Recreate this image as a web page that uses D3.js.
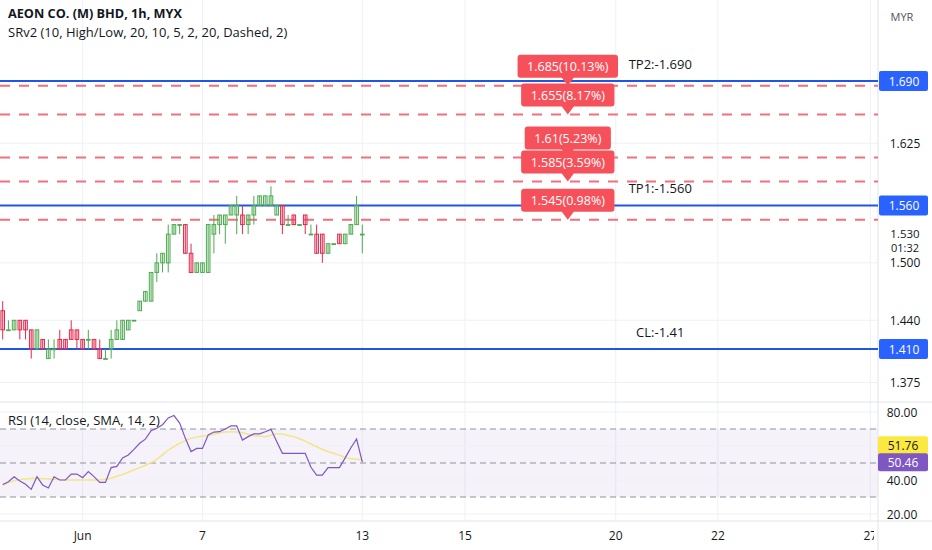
<!DOCTYPE html>
<html>
<head>
<meta charset="utf-8">
<script src="https://cdn.jsdelivr.net/npm/d3@7"></script>
<style>
  html, body { margin: 0; padding: 0; background: #fff; }
  svg { display: block; font-family: "Open Sans", "Noto Sans", sans-serif; }
</style>
</head>
<body>
<div id="chart"></div>
<script>
// Hourly bars, index 0 = first visible bar
const opens  = [1.45,1.43,1.43,1.44,1.44,1.43,1.41,1.42,1.40,1.41,1.42,1.42,1.43,1.43,1.42,1.42,1.42,1.41,1.40,1.41,1.42,1.42,1.43,1.44,
                1.45,1.46,1.46,1.49,1.50,1.50,1.53,1.54,1.54,1.51,1.49,1.49,1.49,1.53,1.54,1.54,1.55,1.55,1.55,1.54,1.55,1.56,1.56,1.56,
                1.55,1.56,1.54,1.55,1.54,1.55,1.53,1.53,1.53,1.51,1.52,1.53,1.52,1.53,1.54,1.53]
const highs  = [1.46,1.44,1.44,1.44,1.44,1.43,1.43,1.42,1.42,1.42,1.43,1.42,1.44,1.43,1.42,1.43,1.42,1.42,1.41,1.43,1.44,1.44,1.44,1.44,
                1.46,1.47,1.49,1.51,1.51,1.54,1.54,1.54,1.54,1.52,1.50,1.50,1.54,1.55,1.55,1.55,1.56,1.57,1.56,1.55,1.57,1.57,1.57,1.58,
                1.56,1.56,1.55,1.55,1.54,1.55,1.54,1.54,1.53,1.52,1.52,1.53,1.53,1.54,1.57,1.54]
const lows   = [1.42,1.43,1.43,1.42,1.42,1.40,1.41,1.41,1.40,1.40,1.41,1.41,1.42,1.41,1.41,1.41,1.41,1.40,1.40,1.40,1.42,1.42,1.43,1.44,
                1.45,1.46,1.46,1.48,1.49,1.49,1.53,1.53,1.51,1.49,1.49,1.49,1.49,1.51,1.53,1.52,1.55,1.53,1.53,1.53,1.54,1.56,1.56,1.56,
                1.55,1.53,1.54,1.54,1.54,1.53,1.53,1.51,1.50,1.51,1.52,1.52,1.52,1.53,1.54,1.51]
const closes = [1.43,1.43,1.44,1.43,1.43,1.41,1.43,1.41,1.41,1.41,1.41,1.41,1.42,1.42,1.41,1.42,1.41,1.40,1.40,1.42,1.43,1.44,1.44,1.44,
                1.46,1.47,1.49,1.50,1.51,1.53,1.54,1.54,1.51,1.49,1.50,1.50,1.54,1.54,1.55,1.55,1.56,1.56,1.54,1.55,1.56,1.57,1.57,1.57,
                1.56,1.54,1.54,1.54,1.54,1.54,1.53,1.51,1.51,1.52,1.52,1.52,1.53,1.54,1.56,1.53]

// RSI (14) and its SMA, one value per bar
const rsiValues = [37.4,39.0,41.9,39.4,37.5,34.5,41.9,37.1,35.3,41.9,40.0,40.0,43.5,43.5,41.4,44.9,42.0,38.6,38.6,47.3,48.0,53.0,54.7,58.0,
                   61.6,64.0,69.0,70.4,72.5,76.5,77.9,73.5,64.5,56.7,58.6,58.6,66.5,68.2,68.4,70.0,71.8,71.8,63.5,65.5,67.1,67.1,68.4,69.8,
                   62.6,55.7,55.7,55.7,55.7,55.7,47.5,42.9,42.9,47.3,47.3,47.3,53.0,59.0,64.1,50.46]
const rsiSma    = [36.7,38.5,39.6,40.2,40.6,40.9,41.0,40.8,40.6,40.4,40.2,40.0,40.0,40.0,40.0,40.0,40.0,40.0,40.4,41.0,42.2,43.3,44.6,46.0,
                   47.3,48.7,50.2,52.3,54.8,57.5,59.6,61.6,63.2,64.6,65.2,65.7,66.2,66.9,67.6,68.3,68.4,68.2,67.8,66.9,66.1,65.8,65.5,66.4,
                   67.2,67.0,66.2,65.5,64.3,62.9,61.2,59.6,58.1,56.8,55.7,54.5,53.3,52.5,52.2,51.76]

// time axis: bar index where each label sits
const dayTickIndex  = [14, 35, 63, 81, 107.4, 125.3, 152]
const dayTickLabels = ['Jun', '7', '13', '15', '20', '22', '27']

const priceTicks = [1.625, 1.500, 1.440, 1.375]
const lastPrice = 1.530
const countdown = '01:32'
const rsiGrid = [80, 60, 40, 20]
const rsiTickLabels = [80, 40, 20]
const rsiBand = [30, 70]
const rsiMid = 50

// SRv2 levels
const levelValues = [1.690, 1.560, 1.410]
const levelTexts  = ['TP2:-1.690', 'TP1:-1.560', 'CL:-1.41']
const targetValues = [1.685, 1.655, 1.61, 1.585, 1.545]
const targetPcts   = ['10.13%', '8.17%', '5.23%', '3.59%', '0.98%']
const targetBarIndex = 99
const levelTextIndex = 115.2

const W = 932, H = 550
const axisX = 878
const mainBottom = 402
const rsiBottom = 521

const svg = d3.select('#chart').append('svg')
  .attr('width', W)
  .attr('height', H)

const x = d3.scaleLinear().domain([0, 63]).range([2.7, 362.3])
const y = d3.scaleLinear().domain([1.410, 1.690]).range([349, 81])
const yr = d3.scaleLinear().domain([20, 80]).range([514, 412])

const gridColor = '#eef1f6'
const textColor = '#131722'

svg.append('defs').append('clipPath').attr('id', 'timeclip')
  .append('rect').attr('x', 0).attr('y', 0).attr('width', 874).attr('height', H)

// vertical grid
svg.append('g').selectAll('line')
  .data(dayTickIndex)
  .enter().append('line')
  .attr('x1', d => x(d)).attr('x2', d => x(d))
  .attr('y1', 0).attr('y2', rsiBottom)
  .attr('stroke', gridColor)

// horizontal grid, price pane
svg.append('g').selectAll('line')
  .data(priceTicks)
  .enter().append('line')
  .attr('x1', 0).attr('x2', axisX)
  .attr('y1', d => y(d)).attr('y2', d => y(d))
  .attr('stroke', gridColor)

// RSI band + grid
svg.append('rect')
  .attr('x', 0).attr('width', axisX)
  .attr('y', yr(rsiBand[1])).attr('height', yr(rsiBand[0]) - yr(rsiBand[1]))
  .attr('fill', 'rgba(126, 87, 194, 0.08)')

svg.append('g').selectAll('line')
  .data(rsiGrid)
  .enter().append('line')
  .attr('x1', 0).attr('x2', axisX)
  .attr('y1', d => yr(d)).attr('y2', d => yr(d))
  .attr('stroke', gridColor)

svg.append('g').selectAll('line')
  .data([rsiBand[1], rsiMid, rsiBand[0]])
  .enter().append('line')
  .attr('x1', 0).attr('x2', axisX)
  .attr('y1', d => yr(d)).attr('y2', d => yr(d))
  .attr('stroke', '#8f929b')
  .attr('stroke-dasharray', '6,4')

// pane borders
svg.append('line').attr('x1', 0).attr('x2', W).attr('y1', mainBottom).attr('y2', mainBottom).attr('stroke', '#e0e3eb')
svg.append('line').attr('x1', 0).attr('x2', W).attr('y1', rsiBottom).attr('y2', rsiBottom).attr('stroke', '#e0e3eb')
svg.append('line').attr('x1', axisX).attr('x2', axisX).attr('y1', 0).attr('y2', H).attr('stroke', '#e0e3eb')

// dashed target levels
svg.append('g').selectAll('line')
  .data(targetValues)
  .enter().append('line')
  .attr('x1', 0).attr('x2', axisX)
  .attr('y1', d => y(d)).attr('y2', d => y(d))
  .attr('stroke', '#f2707b')
  .attr('stroke-width', 2)
  .attr('stroke-dasharray', '10,9')

// solid TP / CL levels
svg.append('g').selectAll('line')
  .data(levelValues)
  .enter().append('line')
  .attr('x1', 0).attr('x2', axisX)
  .attr('y1', d => y(d)).attr('y2', d => y(d))
  .attr('stroke', '#2056e4')
  .attr('stroke-width', 2)

svg.append('g').selectAll('text')
  .data(levelValues)
  .enter().append('text')
  .attr('x', x(levelTextIndex))
  .attr('y', d => y(d) - 17.5)
  .attr('text-anchor', 'middle')
  .attr('dominant-baseline', 'central')
  .attr('font-size', 13)
  .attr('fill', textColor)
  .text((d, i) => levelTexts[i])

// candles
const bars = d3.range(opens.length).map(i => ({
  i, o: opens[i], h: highs[i], l: lows[i], c: closes[i]
}))
const upStroke = '#4caa50', downStroke = '#e2284d'
const cg = svg.append('g').selectAll('g')
  .data(bars)
  .enter().append('g')

cg.append('line')
  .attr('x1', d => x(d.i)).attr('x2', d => x(d.i))
  .attr('y1', d => y(d.h)).attr('y2', d => y(d.l))
  .attr('stroke', d => d.c >= d.o ? upStroke : downStroke)
  .attr('stroke-width', 1)

cg.append('rect')
  .attr('x', d => x(d.i) - 1.8)
  .attr('width', 3.6)
  .attr('y', d => y(Math.max(d.o, d.c)))
  .attr('height', d => Math.max(0.8, Math.abs(y(d.o) - y(d.c))))
  .attr('fill', d => d.c >= d.o ? 'rgba(140, 210, 140, 0.22)' : 'rgba(245, 110, 135, 0.22)')
  .attr('stroke', d => d.c >= d.o ? upStroke : downStroke)
  .attr('stroke-width', 1)

// target labels
const lg = svg.append('g').selectAll('g')
  .data(targetValues)
  .enter().append('g')

lg.each(function (d, i) {
  const g = d3.select(this)
  const cx = x(targetBarIndex)
  const ly = y(d)
  const label = `${d}(${targetPcts[i]})`
  const path = g.append('path').attr('fill', '#f6515a')
  const t = g.append('text')
    .attr('x', cx).attr('y', ly - 19.5)
    .attr('text-anchor', 'middle')
    .attr('dominant-baseline', 'central')
    .attr('font-size', 12.5)
    .attr('fill', '#fff')
    .text(label)
  const w = t.node().getComputedTextLength() + 19
  const top = ly - 31, bottom = ly - 8, r = 3
  const left = cx - w / 2, right = cx + w / 2
  path.attr('d', `M${left + r},${top} H${right - r} Q${right},${top} ${right},${top + r}
    V${bottom - r} Q${right},${bottom} ${right - r},${bottom}
    H${cx + 6} L${cx},${ly} L${cx - 6},${bottom}
    H${left + r} Q${left},${bottom} ${left},${bottom - r}
    V${top + r} Q${left},${top} ${left + r},${top} Z`)
})

// RSI lines
svg.append('path')
  .datum(rsiSma)
  .attr('fill', 'none')
  .attr('stroke', '#f3e58a')
  .attr('stroke-width', 1.5)
  .attr('d', d3.line().x((d, i) => x(i)).y(d => yr(d)).curve(d3.curveMonotoneX))

svg.append('path')
  .datum(rsiValues)
  .attr('fill', 'none')
  .attr('stroke', '#7e57c2')
  .attr('stroke-width', 1.2)
  .attr('d', d3.line().x((d, i) => x(i)).y(d => yr(d)))

// headers
svg.append('text').attr('x', 8).attr('y', 18)
  .attr('font-size', 12.7).attr('font-weight', 'bold').attr('fill', textColor)
  .text('AEON CO. (M) BHD, 1h, MYX')
svg.append('text').attr('x', 8).attr('y', 37)
  .attr('font-size', 13).attr('fill', textColor)
  .text('SRv2 (10, High/Low, 20, 10, 5, 2, 20, Dashed, 2)')
svg.append('text').attr('x', 8).attr('y', 425)
  .attr('font-size', 13).attr('fill', textColor)
  .text('RSI (14, close, SMA, 14, 2)')

// time axis
svg.append('g')
  .attr('clip-path', 'url(#timeclip)')
  .selectAll('text')
  .data(dayTickIndex)
  .enter().append('text')
  .attr('x', d => x(d))
  .attr('y', 535)
  .attr('text-anchor', 'middle')
  .attr('dominant-baseline', 'central')
  .attr('font-size', 12)
  .attr('fill', textColor)
  .text((d, i) => dayTickLabels[i])

// price axis
const pa = svg.append('g')
pa.append('text').attr('x', 902).attr('y', 16)
  .attr('text-anchor', 'middle').attr('dominant-baseline', 'central')
  .attr('font-size', 11).attr('fill', '#50535e').text('MYR')

pa.selectAll('text.tick')
  .data(priceTicks)
  .enter().append('text')
  .attr('class', 'tick')
  .attr('x', 905).attr('y', d => y(d))
  .attr('text-anchor', 'middle').attr('dominant-baseline', 'central')
  .attr('font-size', 12).attr('fill', textColor)
  .text(d => d.toFixed(3))

pa.append('text').attr('x', 905).attr('y', y(lastPrice) - 1)
  .attr('text-anchor', 'middle').attr('dominant-baseline', 'central')
  .attr('font-size', 11.5).attr('fill', textColor).text(lastPrice.toFixed(3))
pa.append('text').attr('x', 905).attr('y', y(lastPrice) + 13.5)
  .attr('text-anchor', 'middle').attr('dominant-baseline', 'central')
  .attr('font-size', 11).attr('fill', textColor).text(countdown)

const lb = pa.selectAll('g.lvl')
  .data(levelValues)
  .enter().append('g')
lb.append('rect')
  .attr('x', axisX + 1).attr('width', 49)
  .attr('y', d => y(d) - 10).attr('height', 20)
  .attr('rx', 2)
  .attr('fill', '#2962ff')
lb.append('text')
  .attr('x', 904).attr('y', d => y(d))
  .attr('text-anchor', 'middle').attr('dominant-baseline', 'central')
  .attr('font-size', 12).attr('fill', '#fff')
  .text(d => d.toFixed(3))

// RSI axis
pa.selectAll('text.rtick')
  .data(rsiTickLabels)
  .enter().append('text')
  .attr('class', 'rtick')
  .attr('x', 902).attr('y', d => yr(d))
  .attr('text-anchor', 'middle').attr('dominant-baseline', 'central')
  .attr('font-size', 12).attr('fill', textColor)
  .text(d => d.toFixed(2))

const smaLast = rsiSma[rsiSma.length - 1]
const rsiLast = rsiValues[rsiValues.length - 1]
const rl = [
  { v: smaLast, yy: yr(rsiLast) - 17, bg: '#fbe93f', fg: textColor },
  { v: rsiLast, yy: yr(rsiLast), bg: '#7e57c2', fg: '#fff' }
]
const rg = pa.selectAll('g.rl').data(rl).enter().append('g')
rg.append('rect')
  .attr('x', axisX).attr('width', 50)
  .attr('y', d => d.yy - 9).attr('height', 18)
  .attr('rx', 2)
  .attr('fill', d => d.bg)
rg.append('text')
  .attr('x', 903).attr('y', d => d.yy)
  .attr('text-anchor', 'middle').attr('dominant-baseline', 'central')
  .attr('font-size', 12).attr('fill', d => d.fg)
  .text(d => d.v.toFixed(2))
</script>
</body>
</html>
